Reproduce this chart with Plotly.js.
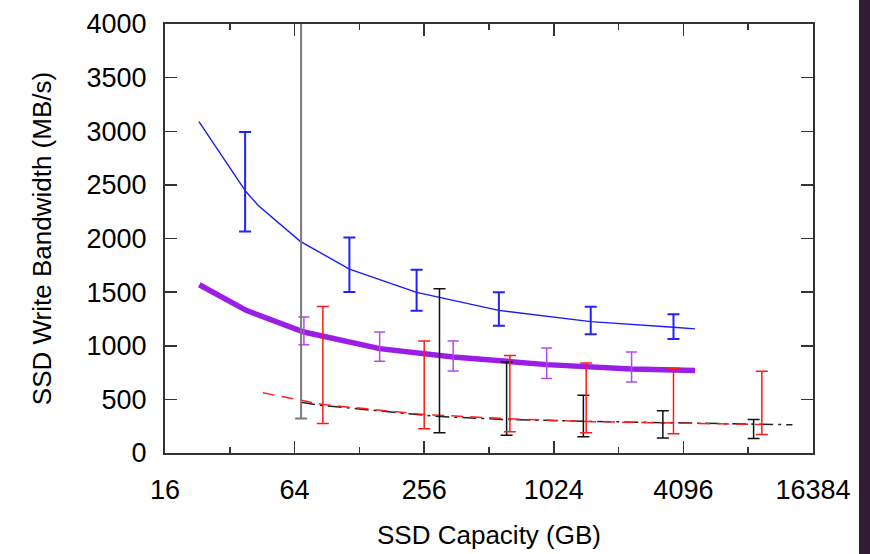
<!DOCTYPE html>
<html>
<head>
<meta charset="utf-8">
<script src="https://cdn.plot.ly/plotly-3.0.1.min.js"></script>
<style>
  html, body { margin: 0; padding: 0; background: #fff; }
  #chart { width: 870px; height: 554px; position: absolute; left: 0; top: 0; }
  #strip { position: absolute; right: 0; top: 0; width: 11px; height: 554px; background: #2f1e31; }
</style>
</head>
<body>
<div id="chart"></div>
<div id="strip"></div>
<script>
// ---- Data (capacity in GB, bandwidth in MB/s) ----
// Blue thin line
const blueLineCap = [23, 38, 43.5, 68, 115, 236, 569, 1520, 3684, 4640];
const blueLineBw  = [3090, 2438, 2305, 1973, 1715, 1498, 1330, 1225, 1172, 1157];
// Blue error bars
const blueBarCap  = [37.7, 115, 236, 569, 1520, 3684];
const blueBarMid  = [2438, 1715, 1498, 1330, 1225, 1172];
const blueBarLow  = [2066, 1501, 1327, 1187, 1107, 1063];
const blueBarHigh = [2994, 2010, 1709, 1498, 1364, 1293];

// Purple thick line
const purpleLineCap = [23.1, 38.1, 70.7, 159, 349, 618, 949, 2353, 4640];
const purpleLineBw  = [1569, 1330, 1128, 973, 896, 850, 824, 784, 770];
// Purple error bars
const purpleBarCap  = [70.7, 159, 349, 949, 2353];
const purpleBarMid  = [1128, 973, 896, 824, 784];
const purpleBarLow  = [1010, 855, 765, 694, 663];
const purpleBarHigh = [1268, 1129, 1045, 980, 942];

// Red dashed line
const redLineCap = [45.6, 86.6, 256, 640, 1448, 3684, 9480];
const redLineBw  = [561, 452, 359, 319, 293, 278, 265];
// Red error bars
const redBarCap  = [86.6, 256, 640, 1448, 3684, 9480];
const redBarMid  = [452, 359, 319, 293, 278, 265];
const redBarLow  = [275, 225, 197, 188, 179, 172];
const redBarHigh = [1367, 1045, 908, 840, 790, 762];

// Black dash-dot line
const blackLineCap = [68.6, 86.6, 301.5, 618, 1405, 3288, 8680, 13150];
const blackLineBw  = [473, 442, 340, 312, 296, 281, 265, 263];
// Black error bars
const blackBarCap  = [68.6, 301.5, 618, 1405, 3288, 8680];
const blackBarMid  = [473, 340, 312, 296, 281, 265];
const blackBarLow  = [321, 188, 166, 151, 141, 135];
const blackBarHigh = [4600, 1532, 849, 538, 393, 312];

// Axis ticks
const xTickVals = [16, 64, 256, 1024, 4096, 16384];
const xTickText = ['16', '64', '256', '1024', '4096', '16384'];
const xMinorVals = [32, 128, 512, 2048, 8192];
const yTickVals = [0, 500, 1000, 1500, 2000, 2500, 3000, 3500, 4000];

// ---- helpers ----
function diff(a, b) { return a.map((v, i) => v - b[i]); }
function barTrace(x, mid, low, high, color, thickness, capw) {
  return {
    x: x, y: mid, type: 'scatter', mode: 'markers',
    marker: { size: 1, opacity: 0, color: color },
    error_y: {
      type: 'data', symmetric: false,
      array: diff(high, mid), arrayminus: diff(mid, low),
      color: color, thickness: thickness, width: capw, visible: true
    },
    showlegend: false, hoverinfo: 'skip'
  };
}
function lineTrace(x, y, color, width, dash) {
  return {
    x: x, y: y, type: 'scatter', mode: 'lines',
    line: { color: color, width: width, dash: dash || 'solid' },
    showlegend: false, hoverinfo: 'skip'
  };
}

const traces = [
  lineTrace(purpleLineCap, purpleLineBw, '#9a1ee6', 5.5),
  barTrace(purpleBarCap, purpleBarMid, purpleBarLow, purpleBarHigh, '#b04cf0', 1.5, 5.5),
  lineTrace(blueLineCap, blueLineBw, '#1a1aff', 1.4),
  barTrace(blueBarCap, blueBarMid, blueBarLow, blueBarHigh, '#2222ff', 2, 6),
  lineTrace(blackLineCap, blackLineBw, '#222', 1.5, '14px,5px,3px,5px'),
  lineTrace(redLineCap, redLineBw, '#ff2020', 1.5, '12px,7px'),
  barTrace(blackBarCap.slice(0, 1), blackBarMid.slice(0, 1), blackBarLow.slice(0, 1), blackBarHigh.slice(0, 1), '#7a7a7a', 2, 6),
  barTrace(blackBarCap.slice(1), blackBarMid.slice(1), blackBarLow.slice(1), blackBarHigh.slice(1), '#111', 1.5, 6),
  barTrace(redBarCap, redBarMid, redBarLow, redBarHigh, '#ff1a1a', 1.5, 6)
];

const fontFam = 'Liberation Sans, Arial, Helvetica, sans-serif';
const axisCol = '#333';

const layout = {
  width: 870, height: 554,
  margin: { l: 165, r: 57, t: 24, b: 101, pad: 0 },
  paper_bgcolor: '#fff', plot_bgcolor: '#fff',
  showlegend: false,
  xaxis: {
    type: 'log',
    range: [Math.log10(16), Math.log10(16384)],
    tickmode: 'array', tickvals: xTickVals, ticktext: xTickText,
    ticks: 'inside', ticklen: 12, tickwidth: 1.5, tickcolor: axisCol,
    minor: { tickmode: 'array', tickvals: xMinorVals, ticks: 'inside', ticklen: 6, tickwidth: 1.5, tickcolor: axisCol, showgrid: false },
    showline: true, linecolor: axisCol, linewidth: 2, mirror: 'ticks',
    showgrid: false, zeroline: false,
    ticklabelstandoff: 12,
    tickfont: { family: fontFam, size: 27, color: '#000' },
    title: { text: 'SSD Capacity (GB)', font: { family: fontFam, size: 26, color: '#000' }, standoff: 21 }
  },
  yaxis: {
    range: [0, 4000],
    tickmode: 'array', tickvals: yTickVals,
    ticks: 'inside', ticklen: 12, tickwidth: 1.5, tickcolor: axisCol,
    showline: true, linecolor: axisCol, linewidth: 2, mirror: 'ticks',
    showgrid: false, zeroline: false,
    ticklabelstandoff: 11,
    tickfont: { family: fontFam, size: 27, color: '#000' },
    title: { text: 'SSD Write Bandwidth (MB/s)', font: { family: fontFam, size: 26, color: '#000' }, standoff: 27 }
  }
};

Plotly.newPlot('chart', traces, layout, { displayModeBar: false, staticPlot: true });
</script>
</body>
</html>
